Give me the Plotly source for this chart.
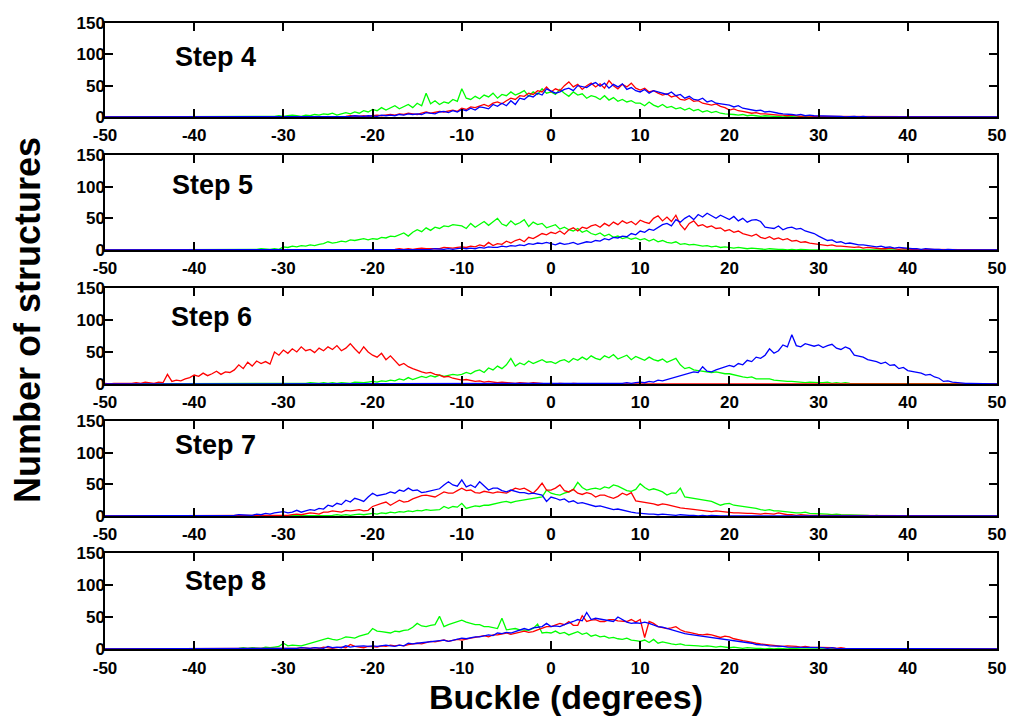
import plotly.graph_objects as go

# ---------------- data: counts per 0.5-degree buckle bin, -50 .. 50 ----------------
BIN_START = -50.0
BIN_WIDTH = 0.5
N_BINS = 201
buckle = [BIN_START + i * BIN_WIDTH for i in range(N_BINS)]

X_TICKS = [-50, -40, -30, -20, -10, 0, 10, 20, 30, 40, 50]
X_TICK_TEXT = ["-50", "-40", "-30", "-20", "-10", "0", "10", "20", "30", "40", "50"]
Y_TICKS = [0, 50, 100, 150]
Y_TICK_TEXT = ["0", "50", "100", "150"]
STEP_LABELS = ["Step 4", "Step 5", "Step 6", "Step 7", "Step 8"]

# ---- Step 4 ----
G4 = [
 0,0,0,0,0,0,1,0,0,0, 0,0,0,0,0,1,0,0,0,0,
 0,0,1,0,0,0,0,1,0,0, 1,0,0,1,0,1,1,0,1,2,
 1,2,3,2,1,3,2,4,3,5, 4,6,3,5,7,5,8,6,10,8,
 12,10,15,11,14,18,13,16,20,15, 22,18,38,21,26,20,24,22,28,25,
 45,30,28,33,29,35,32,38,30,36, 34,40,35,38,42,33,40,36,45,38,
 40,36,44,38,33,40,35,37,30,34, 32,28,34,27,31,25,28,24,26,22,
 22,18,24,19,16,20,15,17,13,15, 11,14,10,12,8,10,7,9,6,5,
 5,4,3,4,2,3,2,1,2,1, 1,1,0,1,0,0,1,0,0,0,
 0,0,0,1,0,0,0,0,0,0, 0,0,0,0,0,0,0,0,0,0,
 0,0,0,0,0,0,0,0,0,0, 0,0,0,0,0,0,0,0,0,0,
 0]
R4 = [
 0,0,0,0,0,0,0,0,0,0, 0,0,0,0,0,0,0,0,0,0,
 0,0,0,0,0,0,0,0,0,0, 0,0,0,0,0,0,1,0,0,0,
 1,0,0,1,0,1,0,0,1,1, 0,1,1,0,1,2,1,1,2,1,
 2,3,2,3,4,3,5,4,6,5, 4,6,8,6,7,9,8,10,11,9,
 14,12,16,15,18,20,17,22,24,21, 26,30,28,34,33,38,36,42,40,48,
 40,45,42,50,56,48,52,44,50,54, 48,53,46,58,50,45,52,48,54,46,
 43,46,40,42,38,35,37,32,34,28, 27,30,25,26,22,20,19,21,17,15,
 11,13,10,9,8,6,7,5,5,4, 4,3,3,2,3,2,1,2,1,1,
 1,1,0,1,0,0,1,0,0,0, 0,0,0,0,0,0,0,0,0,0,
 0,0,0,0,0,0,0,0,0,0, 0,0,0,0,0,0,0,0,0,0,
 0]
B4 = [
 0,0,0,0,0,0,0,0,0,0, 0,0,0,0,0,0,0,0,0,0,
 0,0,0,0,0,0,0,1,0,0, 0,0,0,0,0,0,0,0,0,0,
 0,0,0,1,0,1,0,0,1,0, 1,1,0,1,1,1,2,1,1,2,
 2,1,3,2,3,2,4,3,5,4, 5,4,7,6,5,8,9,7,10,8,
 12,10,14,11,16,15,13,20,17,22, 18,26,20,30,28,34,32,38,35,45,
 42,38,40,44,46,42,50,48,47,52, 55,49,54,46,52,48,53,44,47,42,
 40,44,38,42,40,38,36,40,34,36, 30,33,28,27,30,24,26,22,21,19,
 19,16,18,14,13,12,10,11,8,9, 7,6,5,5,4,3,4,2,3,2,
 2,1,2,1,1,1,0,1,1,0, 1,0,0,0,1,0,0,1,0,0,
 0,0,0,1,0,0,0,0,0,0, 0,0,0,0,0,0,0,0,0,0,
 0]

# ---- Step 5 ----
G5 = [
 0,0,0,0,0,0,0,0,0,0, 0,0,0,0,0,0,0,0,0,0,
 0,0,0,0,0,0,1,0,0,0, 0,1,0,0,1,2,1,1,2,1,
 5,4,6,5,7,6,8,7,9,10, 13,11,12,14,13,16,15,17,18,16,
 18,17,20,19,22,21,24,27,22,28, 32,29,35,31,36,34,38,37,40,39,
 38,34,42,36,40,45,39,44,50,41, 38,46,40,43,48,37,44,40,42,35,
 38,40,33,36,32,30,34,28,31,26, 24,27,22,25,20,22,18,20,17,19,
 16,18,14,17,13,15,12,11,13,9, 10,8,9,7,6,7,5,6,4,5,
 4,3,4,3,2,3,2,2,1,2, 1,1,1,0,1,0,1,0,0,0,
 0,0,0,0,0,0,0,0,0,0, 0,0,0,0,0,0,0,0,0,0,
 0,0,0,0,0,0,0,0,0,0, 0,0,0,0,0,0,0,0,0,0,
 0]
R5 = [
 0,0,0,0,0,0,0,0,0,0, 0,0,0,0,0,0,0,0,0,0,
 0,0,0,0,0,0,0,0,0,0, 0,0,0,0,0,0,0,0,0,0,
 0,0,0,0,0,0,0,0,0,0, 0,0,0,0,0,1,0,0,0,1,
 0,1,1,0,1,1,2,1,2,1, 2,3,2,2,3,2,4,3,3,4,
 5,4,6,5,8,6,12,7,10,9, 14,11,15,17,13,20,18,22,26,24,
 28,26,30,25,32,35,30,36,34,38, 40,36,42,38,44,40,46,42,45,40,
 47,44,42,50,54,46,52,45,55,40, 32,42,46,38,40,36,38,34,35,30,
 32,28,30,26,24,22,25,20,18,21, 17,19,16,18,14,15,12,13,11,10,
 9,8,7,8,6,6,5,5,4,5, 3,4,3,3,2,2,3,2,1,2,
 1,1,1,0,1,1,0,1,0,0, 0,0,0,0,0,0,0,0,0,0,
 0]
B5 = [
 0,0,0,0,0,0,0,0,0,0, 0,0,0,0,0,0,0,0,0,0,
 0,0,0,0,0,0,0,0,0,0, 0,0,0,0,0,0,0,0,0,0,
 0,0,0,0,0,0,0,0,0,0, 0,0,0,0,0,0,0,0,0,0,
 0,0,1,0,0,1,0,1,0,1, 1,0,1,1,2,1,1,2,1,2,
 3,2,3,2,4,3,5,4,4,6, 5,7,6,8,7,10,9,11,10,12,
 10,8,11,9,10,12,9,11,13,12, 15,14,18,16,20,19,22,21,26,24,
 30,28,33,31,35,40,42,38,48,44, 50,54,48,56,52,58,54,50,55,52,
 48,53,46,50,44,47,48,45,36,35, 34,38,32,35,36,33,34,30,28,26,
 22,18,15,16,12,13,10,11,9,8, 8,7,6,5,6,4,5,3,4,3,
 3,2,2,1,2,1,1,1,0,1, 0,0,0,0,0,0,0,0,0,0,
 0]

# ---- Step 6 ----
G6 = [
 0,0,0,0,0,0,0,0,0,0, 0,0,0,0,0,0,0,0,0,0,
 0,0,0,0,0,0,0,0,0,0, 0,1,0,0,0,1,0,0,1,0,
 1,0,1,1,0,1,2,1,1,2, 1,2,1,2,2,1,3,2,2,3,
 4,3,5,4,6,5,8,6,10,7, 9,12,10,13,11,14,12,13,15,14,
 15,18,16,20,22,18,25,22,28,24, 30,40,28,33,30,36,32,35,38,34,
 35,32,36,38,34,40,37,42,38,44, 40,38,44,41,46,39,42,45,38,43,
 40,37,42,38,36,39,34,37,40,30, 24,26,22,21,20,19,18,19,17,16,
 16,14,12,11,10,11,8,8,7,8, 6,5,5,4,4,3,3,2,3,2,
 2,2,3,1,2,1,2,1,1,1, 1,0,1,0,0,1,0,0,0,0,
 0,0,0,0,0,0,0,0,0,0, 0,0,0,0,0,0,0,0,0,0,
 0]
R6 = [
 1,0,1,1,0,1,1,2,1,3, 2,1,3,2,15,4,6,5,8,10,
 14,12,17,13,16,20,15,19,18,22, 30,24,34,28,36,32,35,31,50,45,
 53,48,55,50,58,52,54,49,56,52, 58,54,60,52,56,63,55,48,58,50,
 45,42,48,38,44,36,29,32,27,24, 21,19,17,18,15,14,11,12,9,8,
 6,7,5,4,5,3,4,3,2,3, 2,2,1,2,1,1,2,1,1,0,
 1,0,1,0,0,1,0,0,0,0, 0,0,1,0,0,0,0,0,0,0,
 0,0,0,0,0,0,0,0,0,0, 0,0,0,0,0,0,0,0,0,0,
 0,0,0,0,0,0,0,0,0,0, 0,0,0,0,0,0,0,0,0,0,
 0,0,0,0,0,0,0,0,0,0, 0,0,0,0,0,0,0,0,0,0,
 0,0,0,0,0,0,0,0,0,0, 0,0,0,0,0,0,0,0,0,0,
 0]
B6 = [
 0,0,0,0,0,0,0,0,0,0, 0,0,0,0,0,0,0,0,0,0,
 0,0,0,0,0,0,0,0,0,0, 0,0,0,0,0,0,0,0,0,0,
 0,0,0,0,0,0,0,0,0,0, 0,0,0,0,0,0,0,0,0,0,
 0,0,0,0,0,0,0,0,0,0, 0,0,0,0,0,0,0,0,0,0,
 0,0,0,0,0,0,0,0,0,0, 0,0,0,0,0,0,1,0,0,0,
 0,0,0,0,0,0,0,0,1,0, 1,0,1,1,0,1,1,2,1,2,
 3,2,4,3,6,5,7,9,11,12, 14,16,19,18,27,20,19,22,24,26,
 29,27,32,30,37,35,42,40,45,55, 48,52,61,58,77,60,58,63,61,59,
 61,57,60,62,56,54,58,55,45,43, 42,38,37,35,32,34,29,30,24,26,
 21,20,19,17,14,15,11,9,4,5, 3,2,2,1,1,1,0,1,0,0,
 0]

# ---- Step 7 ----
G7 = [
 0,0,0,0,0,0,0,0,0,0, 0,0,0,0,0,0,0,0,0,0,
 0,0,0,0,0,0,0,0,0,0, 0,0,0,0,0,0,0,0,0,0,
 0,0,0,0,1,0,0,1,0,1, 1,1,2,1,2,1,2,3,2,3,
 4,3,5,4,6,5,7,6,8,7, 9,8,10,9,9,10,15,12,15,14,
 20,12,14,16,15,17,17,19,20,22, 23,21,23,24,25,27,28,29,30,41,
 36,34,33,36,38,42,53,45,41,43, 44,42,46,44,49,47,44,40,39,42,
 51,45,41,43,41,38,33,36,36,44, 30,29,28,26,25,24,23,20,17,19,
 20,17,16,15,15,13,12,10,9,10, 8,8,7,6,6,5,5,6,4,4,
 4,3,3,2,3,2,2,1,1,2, 1,1,0,1,0,0,1,0,0,0,
 0,0,0,1,0,0,0,0,0,0, 0,0,0,0,0,0,0,0,0,0,
 0]
R7 = [
 0,0,0,0,0,0,0,0,0,0, 0,0,0,0,0,0,0,0,0,0,
 0,0,0,0,0,0,0,0,0,0, 0,0,0,0,0,0,0,0,1,0,
 1,1,2,3,2,4,5,4,3,6, 6,8,7,6,9,8,9,10,8,9,
 15,18,20,22,17,21,25,22,23,27, 30,32,33,31,30,34,38,36,36,40,
 44,40,41,37,36,39,38,36,38,37, 36,40,44,42,44,40,36,43,52,41,
 41,44,49,40,38,42,36,34,37,35, 30,33,33,30,28,31,36,33,37,24,
 23,22,21,19,17,19,18,16,15,13, 12,11,11,9,8,8,7,8,7,6,
 6,5,5,4,4,4,3,3,4,3, 3,5,3,2,2,1,2,1,1,1,
 1,1,0,1,0,0,1,0,0,0, 0,0,0,0,0,0,0,0,0,0,
 0,0,0,0,1,0,0,0,0,0, 0,0,0,0,0,0,0,0,0,0,
 0]
B7 = [
 0,0,0,0,0,0,0,0,1,0, 0,0,0,0,0,0,1,0,0,0,
 1,0,1,0,0,0,1,0,0,1, 2,2,1,1,3,2,4,3,5,6,
 7,5,6,9,6,8,10,9,12,11, 17,15,20,18,25,22,28,26,23,30,
 36,32,33,35,38,36,41,39,44,40, 41,37,38,40,41,43,49,54,49,47,
 57,46,49,45,54,47,41,44,44,40, 38,41,39,37,37,35,36,34,33,23,
 30,28,25,27,22,24,20,21,19,17, 15,16,14,12,10,11,9,8,6,5,
 4,4,3,3,2,3,2,2,1,2, 1,1,1,0,1,0,1,0,0,0,
 0,0,0,0,0,0,0,0,0,0, 0,0,0,0,0,0,0,0,0,0,
 0,0,0,0,0,0,0,0,0,0, 0,0,0,0,0,0,0,0,0,0,
 0,0,0,0,0,0,0,0,0,0, 0,0,0,0,0,0,0,0,0,0,
 0]

# ---- Step 8 ----
G8 = [
 0,0,0,1,0,0,0,0,0,0, 0,0,1,0,0,0,0,0,0,1,
 0,0,1,0,1,0,1,1,0,1, 1,2,1,2,2,1,3,2,3,4,
 9,5,6,5,5,7,9,10,12,14, 17,15,14,16,19,18,17,20,22,24,
 32,28,27,26,25,28,27,29,30,34, 40,36,35,37,38,51,35,38,40,42,
 45,42,40,38,38,35,35,33,32,48, 30,31,32,30,30,29,32,39,25,26,
 25,28,24,26,22,24,27,23,25,20, 22,19,20,17,18,16,15,17,14,13,
 12,14,10,15,9,11,9,8,7,8, 6,6,5,5,4,5,4,3,4,3,
 2,3,2,1,2,1,1,1,0,1, 0,1,0,0,1,0,0,0,0,0,
 0,0,0,0,0,0,0,0,0,0, 0,0,0,0,0,0,0,0,0,0,
 0,0,0,0,0,0,0,0,0,0, 0,0,1,0,0,0,0,0,0,0,
 0]
R8 = [
 0,0,0,0,0,0,0,0,0,0, 0,0,0,0,0,0,0,0,0,0,
 0,0,0,0,0,0,1,0,0,0, 0,0,0,1,0,0,0,1,0,0,
 1,0,1,1,2,1,1,2,1,3, 2,1,2,3,2,7,4,3,2,4,
 4,3,5,4,6,5,6,5,7,8, 9,8,10,12,11,12,14,12,14,15,
 14,16,17,18,19,21,19,22,22,24, 25,23,25,27,28,26,27,30,32,35,
 35,38,40,38,43,37,37,52,43,45, 46,43,43,46,46,44,44,43,46,42,
 46,18,43,40,35,33,32,33,35,30, 27,26,24,23,22,23,22,20,18,20,
 19,16,14,13,12,10,9,8,7,6, 5,5,4,5,5,4,3,4,3,3,
 2,2,2,2,1,2,1,1,1,0, 1,0,1,0,0,1,0,0,0,0,
 0,0,0,1,0,0,0,0,0,0, 0,0,0,0,0,0,0,0,1,0,
 0]
B8 = [
 0,0,0,0,0,0,0,0,0,0, 0,0,0,0,0,0,0,0,0,0,
 0,0,0,0,0,0,0,0,0,0, 0,0,0,0,0,0,0,1,0,0,
 0,1,0,1,2,1,1,2,2,1, 4,2,3,2,5,3,4,5,5,4,
 5,4,5,6,5,4,6,5,9,8, 9,10,10,11,12,13,14,12,14,15,
 17,16,18,19,19,20,22,21,25,24, 26,25,27,29,32,30,33,34,35,40,
 35,36,35,38,40,43,46,44,57,46, 48,47,46,44,43,50,46,42,40,41,
 40,42,40,37,35,34,32,30,27,26, 24,23,22,21,20,19,19,18,17,16,
 14,13,12,11,10,9,7,7,6,5, 5,4,4,3,3,3,3,2,2,2,
 2,2,1,2,1,1,1,0,1,0, 1,1,0,1,0,0,0,0,0,0,
 0,0,0,0,0,0,0,0,0,0, 0,0,0,0,0,0,0,1,0,0,
 0]

PANELS = [
    (STEP_LABELS[0], G4, R4, B4),
    (STEP_LABELS[1], G5, R5, B5),
    (STEP_LABELS[2], G6, R6, B6),
    (STEP_LABELS[3], G7, R7, B7),
    (STEP_LABELS[4], G8, R8, B8),
]
for _lab, *_series in PANELS:
    for _s in _series:
        assert len(_s) == N_BINS, (_lab, len(_s))

# ---------------- layout ----------------
W, H = 1011, 717
X_DOMAIN = [105 / W, 997 / W]
PANEL_PX = [(23, 117), (155, 250), (288, 384), (421, 516), (553, 649)]  # top, bottom
LABEL_POS = [(173, 57), (170, 185), (169, 317), (173, 445), (183, 581)]

COLORS = {"g": "#00ff00", "r": "#ff0000", "b": "#0000ff"}
FONT = "Liberation Sans, Arial, sans-serif"
TICKFONT = dict(family=FONT, size=17, color="black", weight="bold")

fig = go.Figure()
n_panels = len(PANELS)
for i, (label, g, r, b) in enumerate(PANELS):
    sfx = "" if i == 0 else str(i + 1)
    for vals, col in ((g, COLORS["g"]), (r, COLORS["r"]), (b, COLORS["b"])):
        fig.add_trace(go.Scatter(
            x=buckle, y=vals, mode="lines",
            line=dict(color=col, width=1.3),
            xaxis="x" + sfx, yaxis="y" + sfx,
            showlegend=False, hoverinfo="skip"))
    top, bot = PANEL_PX[i]
    common = dict(showline=True, linecolor="black", linewidth=1.5, mirror="ticks",
                  ticks="inside", ticklen=8, tickwidth=1.5, tickcolor="black",
                  showgrid=False, zeroline=False, tickfont=TICKFONT,
                  automargin=False)
    fig.update_layout(**{
        "xaxis" + sfx: dict(domain=X_DOMAIN, anchor="y" + sfx, range=[-50, 50],
                            tickvals=X_TICKS, ticktext=X_TICK_TEXT,
                            ticklabelstandoff=(3 if i == n_panels - 1 else 2), **common),
        "yaxis" + sfx: dict(domain=[1 - bot / H, 1 - top / H], anchor="x" + sfx,
                            range=[0, 150], tickvals=Y_TICKS, ticktext=Y_TICK_TEXT,
                            ticklabelstandoff=-5, **common),
    })
    lx, ly = LABEL_POS[i]
    fig.add_annotation(text=label, xref="paper", yref="paper",
                       x=lx / W, y=1 - ly / H, xanchor="left", yanchor="middle",
                       showarrow=False,
                       font=dict(family=FONT, size=27, color="black", weight="bold"))

fig.add_annotation(text="Number of structures", xref="paper", yref="paper",
                   x=27 / W, y=1 - 320 / H, textangle=-90,
                   xanchor="center", yanchor="middle", showarrow=False,
                   font=dict(family=FONT, size=36, color="black", weight="bold"))
fig.add_annotation(text="Buckle (degrees)", xref="paper", yref="paper",
                   x=566 / W, y=1 - 697 / H,
                   xanchor="center", yanchor="middle", showarrow=False,
                   font=dict(family=FONT, size=34, color="black", weight="bold"))

fig.update_layout(width=W, height=H, margin=dict(l=0, r=0, t=0, b=0, autoexpand=False),
                  paper_bgcolor="white", plot_bgcolor="white")

fig.write_html("out.html")
